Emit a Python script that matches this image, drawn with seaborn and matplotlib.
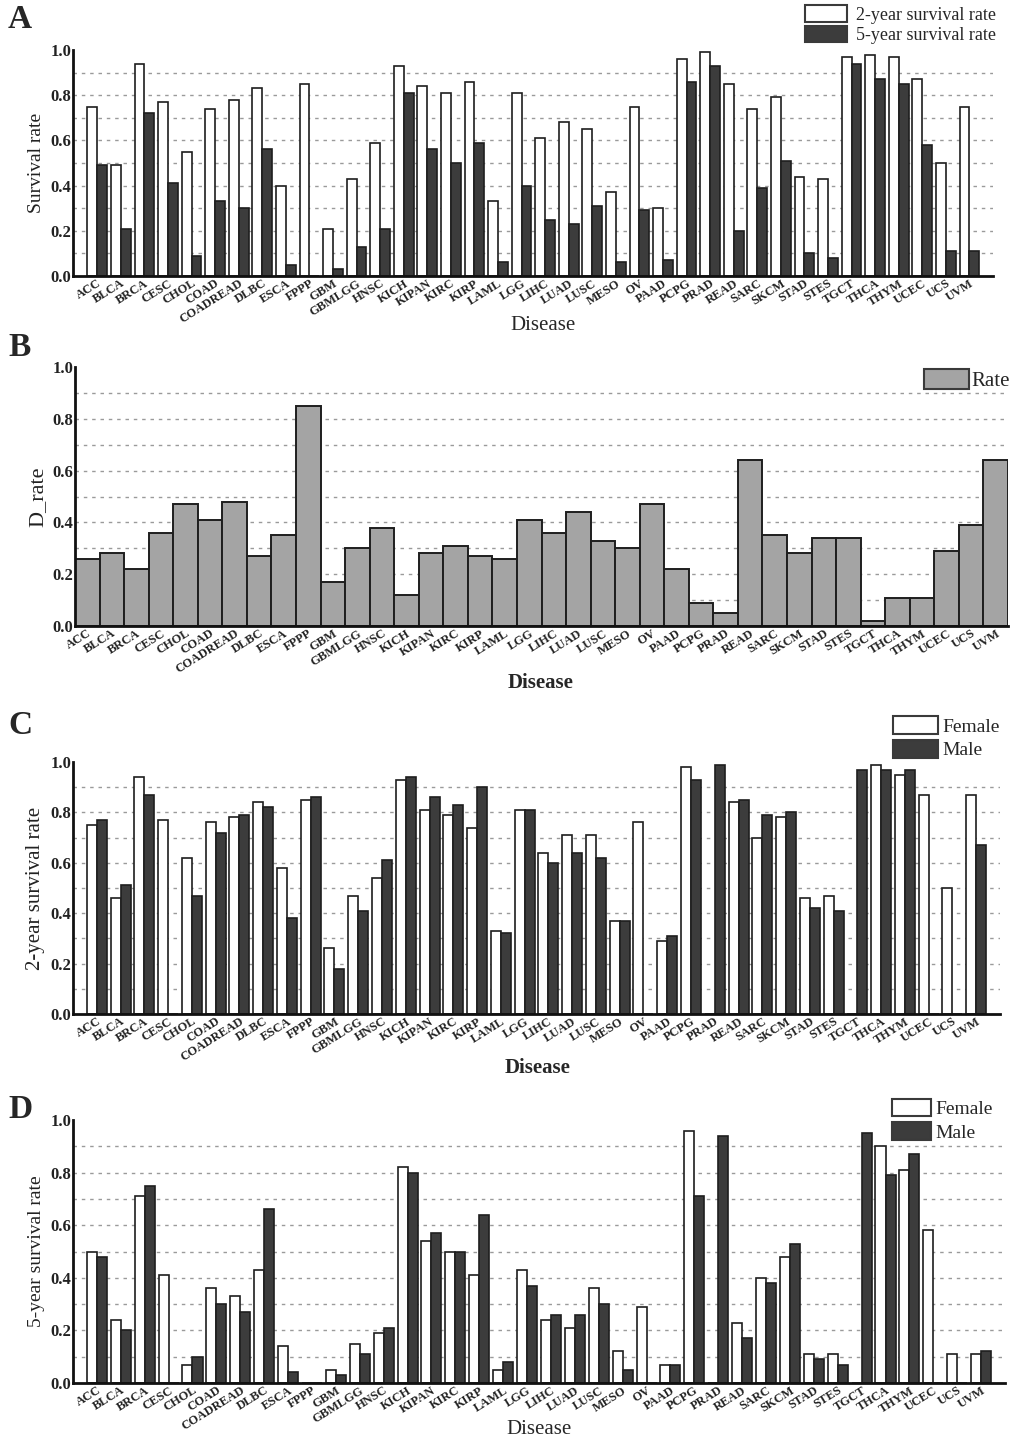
import numpy as np
import pandas as pd
import matplotlib
matplotlib.use("Agg")
import matplotlib.pyplot as plt
from matplotlib.patches import Patch
import seaborn as sns

diseases = ["ACC", "BLCA", "BRCA", "CESC", "CHOL", "COAD", "COADREAD", "DLBC", "ESCA", "FPPP",
            "GBM", "GBMLGG", "HNSC", "KICH", "KIPAN", "KIRC", "KIRP", "LAML", "LGG", "LIHC",
            "LUAD", "LUSC", "MESO", "OV", "PAAD", "PCPG", "PRAD", "READ", "SARC", "SKCM",
            "STAD", "STES", "TGCT", "THCA", "THYM", "UCEC", "UCS", "UVM"]

# panel A
surv_2y = [0.75, 0.49, 0.94, 0.77, 0.55, 0.74, 0.78, 0.83, 0.40, 0.85,
           0.21, 0.43, 0.59, 0.93, 0.84, 0.81, 0.86, 0.33, 0.81, 0.61,
           0.68, 0.65, 0.37, 0.75, 0.30, 0.96, 0.99, 0.85, 0.74, 0.79,
           0.44, 0.43, 0.97, 0.98, 0.97, 0.87, 0.50, 0.75]
surv_5y = [0.49, 0.21, 0.72, 0.41, 0.09, 0.33, 0.30, 0.56, 0.05, 0.00,
           0.03, 0.13, 0.21, 0.81, 0.56, 0.50, 0.59, 0.06, 0.40, 0.25,
           0.23, 0.31, 0.06, 0.29, 0.07, 0.86, 0.93, 0.20, 0.39, 0.51,
           0.10, 0.08, 0.94, 0.87, 0.85, 0.58, 0.11, 0.11]

# panel B
d_rate = [0.26, 0.28, 0.22, 0.36, 0.47, 0.41, 0.48, 0.27, 0.35, 0.85,
          0.17, 0.30, 0.38, 0.12, 0.28, 0.31, 0.27, 0.26, 0.41, 0.36,
          0.44, 0.33, 0.30, 0.47, 0.22, 0.09, 0.05, 0.64, 0.35, 0.28,
          0.34, 0.34, 0.02, 0.11, 0.11, 0.29, 0.39, 0.64]

# panel C (2-year by sex)
female_2y = [0.75, 0.46, 0.94, 0.77, 0.62, 0.76, 0.78, 0.84, 0.58, 0.85,
             0.26, 0.47, 0.54, 0.93, 0.81, 0.79, 0.74, 0.33, 0.81, 0.64,
             0.71, 0.71, 0.37, 0.76, 0.29, 0.98, 0.00, 0.84, 0.70, 0.78,
             0.46, 0.47, 0.00, 0.99, 0.95, 0.87, 0.50, 0.87]
male_2y = [0.77, 0.51, 0.87, 0.00, 0.47, 0.72, 0.79, 0.82, 0.38, 0.86,
           0.18, 0.41, 0.61, 0.94, 0.86, 0.83, 0.90, 0.32, 0.81, 0.60,
           0.64, 0.62, 0.37, 0.00, 0.31, 0.93, 0.99, 0.85, 0.79, 0.80,
           0.42, 0.41, 0.97, 0.97, 0.97, 0.00, 0.00, 0.67]

# panel D (5-year by sex)
female_5y = [0.50, 0.24, 0.71, 0.41, 0.07, 0.36, 0.33, 0.43, 0.14, 0.00,
             0.05, 0.15, 0.19, 0.82, 0.54, 0.50, 0.41, 0.05, 0.43, 0.24,
             0.21, 0.36, 0.12, 0.29, 0.07, 0.96, 0.00, 0.23, 0.40, 0.48,
             0.11, 0.11, 0.00, 0.90, 0.81, 0.58, 0.11, 0.11]
male_5y = [0.48, 0.20, 0.75, 0.00, 0.10, 0.30, 0.27, 0.66, 0.04, 0.00,
           0.03, 0.11, 0.21, 0.80, 0.57, 0.50, 0.64, 0.08, 0.37, 0.26,
           0.26, 0.30, 0.05, 0.00, 0.07, 0.71, 0.94, 0.17, 0.38, 0.53,
           0.09, 0.07, 0.95, 0.79, 0.87, 0.00, 0.00, 0.12]

sns.set_theme(style="white")
plt.rcParams["font.family"] = ["Liberation Serif", "DejaVu Serif"]

DARK = "#3c3c3c"
EDGE = "#1e1e1e"
GRID = "#9a9a9a"
W, H = 1016, 1450

fig = plt.figure(figsize=(W / 100, H / 100), dpi=100)


def add_axes(left, right, top, bottom):
    return fig.add_axes([left / W, 1 - bottom / H, (right - left) / W, (bottom - top) / H])


def style_axes(ax, ylabel, ylabel_size, disease_bold, xlim):
    ax.set_ylim(0, 1.0)
    ax.set_xlim(*xlim)
    for y in np.arange(0.1, 0.95, 0.1):
        ax.axhline(y, color=GRID, lw=1.0, ls=(0, (2.5, 3.5)), zorder=0)
    for s in ["top", "right"]:
        ax.spines[s].set_visible(False)
    for s in ["left", "bottom"]:
        ax.spines[s].set_color("#111111")
        ax.spines[s].set_linewidth(2.0)
        ax.spines[s].set_zorder(5)
    ax.set_yticks([0, 0.2, 0.4, 0.6, 0.8, 1.0])
    ax.set_yticklabels(["0.0", "0.2", "0.4", "0.6", "0.8", "1.0"],
                       fontsize=12, fontweight="bold", color="#222222")
    ax.tick_params(axis="both", length=0, pad=1)
    ax.set_xticks(range(len(diseases)))
    ax.set_xticklabels(diseases, rotation=32, ha="right", rotation_mode="anchor",
                       fontsize=9, fontweight="bold", color="#222222")
    ax.set_xlabel("")
    ax.set_ylabel(ylabel, fontsize=ylabel_size, color="#222222", labelpad=4)
    ax.grid(False)
    return "bold" if disease_bold else "normal"


def paired(ax, a, b, names, colors):
    df = pd.DataFrame({
        "Disease": diseases * 2,
        "value": list(a) + list(b),
        "group": [names[0]] * len(diseases) + [names[1]] * len(diseases),
    })
    sns.barplot(data=df, x="Disease", y="value", hue="group", order=diseases,
                hue_order=names, palette=dict(zip(names, colors)), saturation=1,
                width=0.84, gap=0, edgecolor=EDGE, linewidth=1.2, legend=False,
                errorbar=None, ax=ax, zorder=3)


def legend(ax, labels, colors, right, top, fontsize, hl, hh, spacing, pad):
    handles = [Patch(facecolor=c, edgecolor="#3a3a3a", linewidth=1.5) for c in colors]
    ax.legend(handles, labels, loc="upper right", bbox_to_anchor=(right / W, 1 - top / H),
              bbox_transform=fig.transFigure, frameon=False, fontsize=fontsize,
              handlelength=hl, handleheight=hh, labelspacing=spacing,
              handletextpad=pad, borderpad=0, borderaxespad=0)


# ---- A
axA = add_axes(73, 993, 50, 276)
paired(axA, surv_2y, surv_5y, ["2-year survival rate", "5-year survival rate"], ["white", DARK])
wA = style_axes(axA, "Survival rate", 14, False, (-1.03, 38.0))
legend(axA, ["2-year survival rate", "5-year survival rate"], ["white", DARK],
       996, 5, 13, 2.3, 1.05, 0.12, 0.5)
fig.text(543 / W, 1 - 325 / H, "Disease", fontsize=15, fontweight=wA, ha="center", va="center")

# ---- B
axB = add_axes(75, 1008, 367, 626)
sns.barplot(x=diseases, y=d_rate, color="#a4a4a4", saturation=1, width=1.0,
            edgecolor=EDGE, linewidth=1.4, errorbar=None, ax=axB, zorder=3)
wB = style_axes(axB, "D_rate", 16, True, (-0.5, 37.5))
legend(axB, ["Rate"], ["#a4a4a4"], 1010, 369, 15, 2.2, 1.1, 0.1, 0.1)
fig.text(541 / W, 1 - 683 / H, "Disease", fontsize=15, fontweight=wB, ha="center", va="center")

# ---- C
axC = add_axes(73, 1000, 762, 1014)
paired(axC, female_2y, male_2y, ["Female", "Male"], ["white", DARK])
wC = style_axes(axC, "2-year survival rate", 15, True, (-1.0, 38.0))
legend(axC, ["Female", "Male"], ["white", DARK], 1000, 716, 14, 2.3, 1.05, 0.2, 0.25)
fig.text(538 / W, 1 - 1068 / H, "Disease", fontsize=15, fontweight=wC, ha="center", va="center")

# ---- D
axD = add_axes(73, 1005, 1120, 1383)
paired(axD, female_5y, male_5y, ["Female", "Male"], ["white", DARK])
wD = style_axes(axD, "5-year survival rate", 14, False, (-1.0, 38.0))
legend(axD, ["Female", "Male"], ["white", DARK], 993, 1099, 14, 2.0, 1.0, 0.2, 0.25)
fig.text(539 / W, 1 - 1430 / H, "Disease", fontsize=15, fontweight=wD, ha="center", va="center")

# panel letters
for letter, y in [("A", 20), ("B", 347), ("C", 726), ("D", 1109)]:
    fig.text(8 / W, 1 - y / H, letter, fontsize=24, fontweight="bold", ha="left", va="center")

fig.savefig("out.png", dpi=100)
